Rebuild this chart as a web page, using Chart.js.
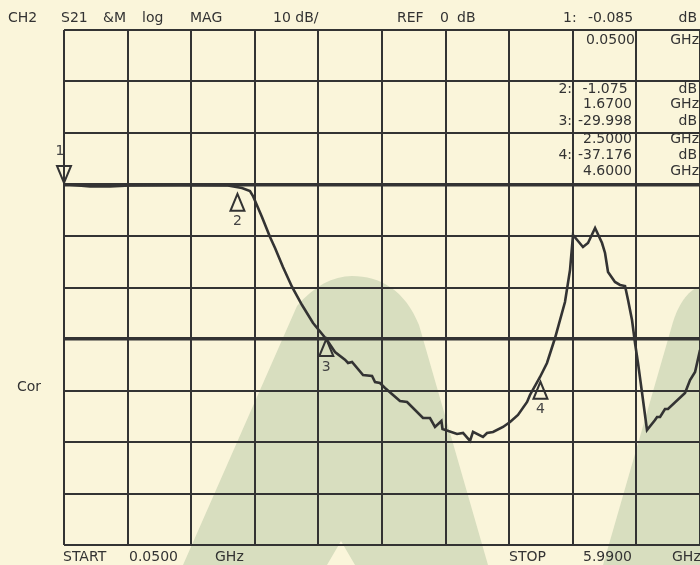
<!DOCTYPE html>
<html>
<head>
<meta charset="utf-8">
<script src="https://cdn.jsdelivr.net/npm/chart.js@4/dist/chart.umd.min.js"></script>
<style>
  html, body { margin: 0; padding: 0; background: #faf5da; }
  #wrap { width: 700px; height: 565px; position: relative; }
</style>
</head>
<body>
<div id="wrap"><canvas id="vna" width="700" height="565"></canvas></div>
<script>
// sweep settings
const START_GHZ = 0.05;
const STOP_GHZ = 5.99;
const DB_TOP = 30;
const DB_BOTTOM = -70;
const DB_PER_DIV = 10;

// S21 trace
const freqGHz = [0.050, 0.293, 0.480, 0.666, 1.133, 1.581, 1.712, 1.787, 1.815, 1.899,
  1.974, 2.021, 2.095, 2.180, 2.273, 2.376, 2.506, 2.581, 2.674, 2.703,
  2.740, 2.843, 2.927, 2.955, 3.001, 3.048, 3.188, 3.254, 3.403, 3.468,
  3.515, 3.575, 3.585, 3.721, 3.777, 3.842, 3.870, 3.963, 4.001, 4.057,
  4.150, 4.216, 4.290, 4.375, 4.402, 4.496, 4.561, 4.636, 4.729, 4.776,
  4.804, 4.897, 4.944, 5.010, 5.075, 5.103, 5.131, 5.196, 5.243, 5.290,
  5.318, 5.355, 5.383, 5.411, 5.449, 5.495, 5.570, 5.589, 5.617, 5.663,
  5.691, 5.850, 5.897, 5.944, 5.990];
const s21dB = [0.04, -0.39, -0.39, -0.19, -0.14, -0.19, -0.68, -1.26, -2.23, -6.31,
  -10.19, -12.33, -16.02, -19.90, -23.40, -26.89, -30.19, -32.52, -34.00, -34.66,
  -34.47, -36.99, -37.18, -38.35, -38.54, -39.51, -42.04, -42.23, -45.34, -45.34,
  -47.08, -45.92, -47.47, -48.44, -48.25, -49.80, -48.05, -49.02, -48.25, -48.05,
  -47.08, -46.11, -44.75, -42.23, -40.87, -37.38, -34.66, -29.81, -22.81, -16.60,
  -9.81, -12.14, -11.36, -8.45, -11.36, -13.30, -16.99, -18.93, -19.51, -19.71,
  -22.43, -26.31, -30.78, -34.66, -40.48, -47.67, -45.73, -45.15, -45.15, -43.60,
  -43.60, -40.48, -37.96, -36.41, -32.13];

// markers (position on screen)
const markerNo = ['1', '2', '3', '4'];
const markerGHz = [0.05, 1.67, 2.50, 4.50];
const markerDb = [0.3, -1.8, -30.0, -38.3];

// marker readout text
const readNo = ['2:', '3:', '4:'];
const readDb = ['-1.075', '-29.998', '-37.176'];
const readGHz = ['1.6700', '2.5000', '4.6000'];

// header / footer text
const header = ['CH2', 'S21', '&M', 'log', 'MAG', '10 dB/', 'REF', '0', 'dB'];
const headerX = [8, 61, 103, 142, 190, 273, 397, 440, 457];

const xGrid = [];
for (let i = 0; i <= 10; i++) xGrid.push(START_GHZ + (STOP_GHZ - START_GHZ) * i / 10);

const INK = '#333333';
const FONT = '14px "DejaVu Sans", Verdana, sans-serif';

const screenPlugin = {
  id: 'screen',
  beforeDraw(chart) {
    const c = chart.ctx;
    c.save();
    c.fillStyle = '#faf5da';
    c.fillRect(0, 0, chart.width, chart.height);
    // watermark logo
    c.fillStyle = '#d8debf';
    c.beginPath();
    c.moveTo(183, 565);
    c.lineTo(297, 306);
    c.bezierCurveTo(314, 286, 333, 276, 352, 276);
    c.bezierCurveTo(380, 276, 405, 290, 419, 325);
    c.lineTo(488, 565);
    c.lineTo(355, 565);
    c.lineTo(341, 541);
    c.lineTo(327, 565);
    c.closePath();
    c.fill();
    c.beginPath();
    c.moveTo(603, 565);
    c.lineTo(673, 322);
    c.bezierCurveTo(680, 300, 690, 290, 700, 286);
    c.lineTo(700, 565);
    c.closePath();
    c.fill();
    c.restore();
  },
  afterDraw(chart) {
    const c = chart.ctx;
    const xs = chart.scales.x, ys = chart.scales.y;
    c.save();
    c.fillStyle = INK;
    c.strokeStyle = INK;
    c.font = FONT;
    c.textBaseline = 'middle';

    c.textAlign = 'left';
    header.forEach((t, i) => c.fillText(t, headerX[i], 18));
    c.fillText('1:', 563, 18);
    c.fillText('-0.085', 588, 18);
    c.textAlign = 'right';
    c.fillText('dB', 697, 18);
    c.fillText('0.0500', 635, 40);
    c.fillText('GHz', 699, 40);

    const rowY = [89, 104, 121, 139, 155, 171];
    readNo.forEach((t, i) => {
      c.fillText(t, 572, rowY[i * 2]);
      c.fillText(readDb[i] + (i === 0 ? ' ' : ''), 632, rowY[i * 2]);
      c.fillText('dB', 697, rowY[i * 2]);
      c.fillText(readGHz[i], 632, rowY[i * 2 + 1]);
      c.fillText('GHz', 699, rowY[i * 2 + 1]);
    });

    c.textAlign = 'left';
    c.fillText('Cor', 17, 387);
    c.fillText('START', 63, 557);
    c.fillText('0.0500', 129, 557);
    c.fillText('GHz', 215, 557);
    c.fillText('STOP', 509, 557);
    c.fillText('5.9900', 583, 557);
    c.fillText('GHz', 672, 557);

    // marker triangles
    c.lineWidth = 2;
    c.textAlign = 'center';
    c.fillStyle = '#444444';
    markerNo.forEach((n, i) => {
      const px = xs.getPixelForValue(markerGHz[i]);
      const py = ys.getPixelForValue(markerDb[i]);
      const dir = i === 0 ? -1 : 1;
      c.beginPath();
      c.moveTo(px, py);
      c.lineTo(px - 7, py + dir * 17);
      c.lineTo(px + 7, py + dir * 17);
      c.closePath();
      c.stroke();
      c.fillText(n, px - (i === 0 ? 4 : 0), py + dir * (i === 0 ? 32 : 28));
    });
    c.restore();
  }
};

new Chart(document.getElementById('vna'), {
  type: 'line',
  data: {
    datasets: [{
      data: freqGHz.map((f, i) => ({ x: f, y: s21dB[i] })),
      borderColor: INK,
      borderWidth: 2.6,
      pointRadius: 0,
      tension: 0,
      fill: false
    }]
  },
  options: {
    responsive: false,
    animation: false,
    devicePixelRatio: 1,
    layout: { padding: { left: 64, top: 30, right: 0, bottom: 20 } },
    plugins: { legend: { display: false }, tooltip: { enabled: false } },
    scales: {
      x: {
        type: 'linear',
        min: START_GHZ,
        max: STOP_GHZ,
        afterBuildTicks: s => { s.ticks = xGrid.map(v => ({ value: v })); },
        afterFit: s => { s.height = 0; },
        ticks: { display: false },
        border: { display: false },
        grid: { color: INK, lineWidth: 2, drawTicks: false }
      },
      y: {
        min: DB_BOTTOM,
        max: DB_TOP,
        afterFit: s => { s.width = 0; },
        ticks: { display: false, stepSize: DB_PER_DIV },
        border: { display: false },
        grid: {
          color: INK,
          drawTicks: false,
          lineWidth: ctx => (ctx.tick && (ctx.tick.value === 0 || ctx.tick.value === -30)) ? 3.5 : 2
        }
      }
    }
  },
  plugins: [screenPlugin]
});
</script>
</body>
</html>
